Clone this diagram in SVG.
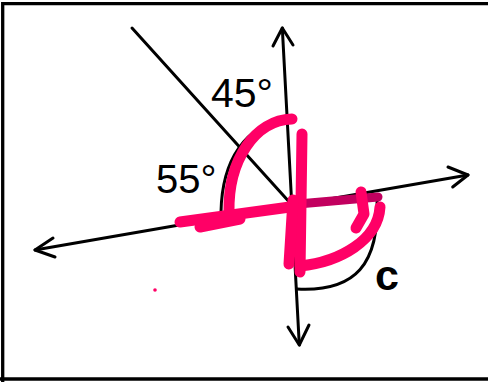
<svg xmlns="http://www.w3.org/2000/svg" width="488" height="382" viewBox="0 0 488 382">
<style>
.ln{fill:none;stroke:#000;stroke-width:3;stroke-linecap:round;stroke-linejoin:round}
.arc{fill:none;stroke:#000;stroke-width:3;stroke-linecap:round}
.pk{fill:none;stroke:#FF0066;stroke-width:11;stroke-linecap:round;stroke-linejoin:round}
.lbl{font-family:"Liberation Sans",Arial,sans-serif;fill:#000}
</style>
<rect width="488" height="382" fill="#fff"/>
<g id="frame">
<path d="M2.7,382 V3.7 H488" fill="none" stroke="#000" stroke-width="3.3"/>
<path d="M0,379 H488" fill="none" stroke="#000" stroke-width="3.3"/>
</g>
<g id="lines">
<path class="ln" d="M132,28 L292,205"/>
<path class="ln" d="M282.3,28 L299.3,345"/>
<path class="ln" d="M273,46 L282.3,28 L293,45"/>
<path class="ln" d="M288,327 L299.3,345 L309,325"/>
<path class="ln" d="M35,250 L468,175"/>
<path class="ln" d="M53,238 L35,250 L55,257"/>
<path class="ln" d="M448,167 L468,175 L452.7,187"/>
</g>
<g id="angle-arcs">
<path class="arc" d="M221,212 C222,160 245,125 288,118"/>
<path class="arc" d="M297,289 C355,292 380,265 377,198"/>
</g>
<g id="labels">
<text class="lbl" x="211" y="107" font-size="41">45°</text>
<text class="lbl" x="156" y="193" font-size="40">55°</text>
<text class="lbl" x="375" y="290" font-size="43" font-weight="bold">c</text>
</g>
<g id="pink-marks">
<path d="M298,204 L378,197" fill="none" stroke="#C2005F" stroke-width="9" stroke-linecap="round"/>
<path class="pk" d="M292,119 C255,120 228,160 229,212"/>
<path class="pk" d="M180,222 L290,207"/>
<path class="pk" d="M200,227 L240,219"/>
<path class="pk" d="M302,134 L300,272" stroke-width="14"/>
<path class="pk" d="M293,200 L289,264" stroke-width="12"/>
<path class="pk" d="M300,266 C340,262 378,240 380,207"/>
<path class="pk" d="M361,192 L364,214 L356,228" stroke-width="9"/>
<circle cx="155" cy="290" r="1.8" fill="#FF0066"/>
</g>
</svg>
